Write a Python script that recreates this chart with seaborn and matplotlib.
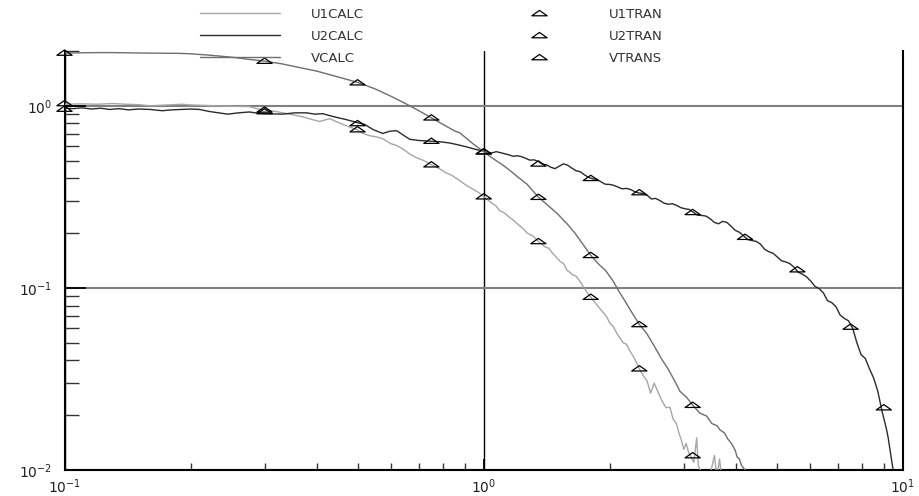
import numpy as np
import pandas as pd
import matplotlib
matplotlib.use("Agg")
import matplotlib.pyplot as plt
from matplotlib.path import Path
from matplotlib.lines import Line2D
from matplotlib.ticker import LogLocator, LogFormatterSciNotation, NullFormatter
import seaborn as sns

# ---------------- data ----------------
u1calc_x = [0.100, 0.110, 0.120, 0.130, 0.140, 0.150, 0.160, 0.175, 0.190, 0.202, 0.215, 0.230,
            0.250, 0.276, 0.290, 0.305, 0.320, 0.344, 0.370, 0.390, 0.406, 0.429, 0.450, 0.475,
            0.498, 0.515, 0.535, 0.555, 0.574, 0.600, 0.620, 0.641, 0.665, 0.690, 0.720, 0.750,
            0.780, 0.810, 0.840, 0.877, 0.910, 0.940, 0.970, 1.00, 1.03, 1.05, 1.07,
            1.09, 1.12, 1.15, 1.17, 1.20, 1.24, 1.27, 1.31, 1.35, 1.40, 1.43, 1.46, 1.52, 1.55,
            1.58, 1.63, 1.66, 1.69, 1.75, 1.80, 1.85,
            1.92, 1.96, 2.00, 2.04, 2.08, 2.15, 2.19, 2.22, 2.26, 2.30, 2.35, 2.40, 2.45, 2.50,
            2.55, 2.60, 2.66, 2.72,
            2.78, 2.83, 2.88, 2.92, 2.96, 3.00, 3.04, 3.08, 3.12, 3.17, 3.22, 3.25, 3.28, 3.32,
            3.45, 3.55, 3.60, 3.65, 3.70]
u1calc_y = [1.02, 1.025, 1.02, 1.03, 1.02, 1.015, 1.00, 1.01, 1.02, 1.01, 1.005, 1.00,
            0.995, 0.99, 0.96, 0.945, 0.93, 0.90, 0.87, 0.84, 0.82, 0.85, 0.81, 0.77,
            0.74, 0.705, 0.685, 0.675, 0.66, 0.62, 0.605, 0.58, 0.545, 0.52, 0.50, 0.475,
            0.455, 0.43, 0.415, 0.388, 0.365, 0.35, 0.335, 0.317, 0.30, 0.29, 0.282,
            0.266, 0.258, 0.245, 0.238, 0.226, 0.212, 0.20, 0.193, 0.18, 0.168, 0.165, 0.155, 0.14, 0.136,
            0.125, 0.118, 0.116, 0.110, 0.097, 0.089, 0.082,
            0.074, 0.070, 0.064, 0.061, 0.056, 0.050, 0.049, 0.046, 0.043, 0.040, 0.036, 0.033, 0.031, 0.0264,
            0.030, 0.027, 0.024, 0.022,
            0.0221, 0.019, 0.018, 0.016, 0.0146, 0.013, 0.014, 0.0125, 0.0119, 0.011, 0.015, 0.0105, 0.0101, 0.0092,
            0.0090, 0.0120, 0.0090, 0.0115, 0.0090]

u2calc_x = [0.100, 0.105, 0.110, 0.116, 0.122, 0.128, 0.135, 0.142, 0.150, 0.160, 0.171, 0.180,
            0.190, 0.200, 0.210, 0.222, 0.233, 0.245, 0.260, 0.276, 0.290, 0.305, 0.331, 0.355,
            0.378, 0.395, 0.413, 0.440, 0.470, 0.498, 0.520, 0.545, 0.574, 0.597, 0.620, 0.643,
            0.666, 0.700, 0.743, 0.785, 0.829, 0.870, 0.910, 0.960,
            1.000, 1.023, 1.047, 1.071, 1.096, 1.122, 1.148, 1.175, 1.202, 1.230, 1.259, 1.288,
            1.318, 1.349, 1.380, 1.413, 1.445, 1.479, 1.514, 1.549, 1.585, 1.622, 1.660, 1.698,
            1.738, 1.778, 1.820, 1.862, 1.905, 1.950, 1.995, 2.042, 2.089, 2.138, 2.188, 2.239,
            2.291, 2.344, 2.399, 2.455, 2.512, 2.570, 2.630, 2.692, 2.754, 2.818, 2.884, 2.951,
            3.020, 3.090, 3.162, 3.236, 3.311, 3.388, 3.467, 3.548, 3.631, 3.715, 3.802, 3.890,
            3.981, 4.074, 4.169, 4.266, 4.365, 4.467, 4.571, 4.677, 4.786, 4.898, 5.012, 5.129,
            5.248, 5.370, 5.495, 5.623, 5.754, 5.888, 6.026, 6.166, 6.310, 6.457, 6.607, 6.761,
            6.918, 7.079, 7.244, 7.413, 7.586, 7.762, 7.943, 8.128, 8.318, 8.511, 8.710, 8.913,
            9.120, 9.220, 9.330, 9.440, 9.550]
u2calc_y = [0.97, 0.965, 0.975, 0.96, 0.97, 0.955, 0.965, 0.95, 0.96, 0.955, 0.94, 0.95,
            0.955, 0.96, 0.955, 0.93, 0.915, 0.90, 0.915, 0.925, 0.91, 0.905, 0.90, 0.915,
            0.915, 0.90, 0.905, 0.87, 0.84, 0.81, 0.79, 0.74, 0.705, 0.725, 0.73, 0.69,
            0.655, 0.645, 0.64, 0.635, 0.625, 0.61, 0.595, 0.575,
            0.565, 0.548, 0.552, 0.560, 0.553, 0.545, 0.538, 0.528, 0.532, 0.526, 0.515, 0.503,
            0.505, 0.495, 0.478, 0.474, 0.460, 0.452, 0.466, 0.480, 0.472, 0.455, 0.440, 0.435,
            0.418, 0.405, 0.397, 0.395, 0.382, 0.371, 0.370, 0.366, 0.358, 0.350, 0.352, 0.347,
            0.338, 0.332, 0.330, 0.322, 0.308, 0.310, 0.302, 0.292, 0.288, 0.290, 0.284, 0.276,
            0.272, 0.270, 0.260, 0.251, 0.250, 0.248, 0.240, 0.229, 0.225, 0.232, 0.229, 0.218,
            0.207, 0.202, 0.193, 0.184, 0.182, 0.180, 0.174, 0.163, 0.158, 0.155, 0.148, 0.141,
            0.139, 0.136, 0.130, 0.122, 0.119, 0.115, 0.109, 0.102, 0.099, 0.094, 0.085, 0.083,
            0.079, 0.071, 0.068, 0.066, 0.060, 0.050, 0.043, 0.041, 0.036, 0.032, 0.027, 0.021,
            0.017, 0.015, 0.0125, 0.0105, 0.009]

vcalc_x = [0.100, 0.110, 0.120, 0.130, 0.140, 0.150, 0.170, 0.190, 0.200, 0.220, 0.250, 0.275,
           0.300, 0.330, 0.360, 0.400, 0.440, 0.500, 0.550, 0.600, 0.650, 0.700, 0.750, 0.800,
           0.850, 0.877, 0.950, 1.00, 1.05, 1.10, 1.15, 1.20, 1.27, 1.35, 1.42, 1.50, 1.58, 1.65,
           1.72, 1.80, 1.88, 1.95, 2.03, 2.10, 2.17, 2.25, 2.35, 2.45, 2.55, 2.65, 2.75, 2.85,
           2.94, 3.05, 3.15, 3.28, 3.40, 3.50, 3.60, 3.66, 3.75, 3.82, 3.88, 3.94, 3.98, 4.02,
           4.07, 4.12, 4.20, 4.25]
vcalc_y = [1.95, 1.955, 1.96, 1.96, 1.955, 1.95, 1.945, 1.94, 1.93, 1.90, 1.85, 1.80,
           1.76, 1.70, 1.63, 1.55, 1.46, 1.345, 1.24, 1.13, 1.03, 0.94, 0.86, 0.79,
           0.73, 0.71, 0.61, 0.56, 0.515, 0.48, 0.445, 0.41, 0.37, 0.315, 0.285, 0.255, 0.225, 0.20,
           0.175, 0.151, 0.135, 0.125, 0.11, 0.096, 0.085, 0.074, 0.063, 0.056, 0.048, 0.041, 0.036, 0.031,
           0.027, 0.025, 0.0227, 0.0205, 0.0198, 0.018, 0.0175, 0.0166, 0.0160, 0.0148, 0.0142, 0.0134, 0.0128, 0.0118,
           0.0115, 0.0106, 0.0100, 0.0093]

marker_x = [0.1, 0.3, 0.5, 0.75, 1.0, 1.35, 1.8, 2.35, 3.15, 4.2, 5.6, 7.5, 9.0]
u1tran_y = [1.03, 0.95, 0.74, 0.475, 0.317, 0.18, 0.089, 0.036, 0.012]
u2tran_y = [0.96, 0.93, 0.80, 0.64, 0.56, 0.48, 0.40, 0.334, 0.26, 0.19, 0.126, 0.061, 0.022]
vtrans_y = [1.95, 1.76, 1.34, 0.86, 0.56, 0.315, 0.151, 0.063, 0.0227]

calc_names = ["U1CALC", "U2CALC", "VCALC"]
tran_names = ["U1TRAN", "U2TRAN", "VTRANS"]
calc_colors = {"U1CALC": "#a6a6a6", "U2CALC": "#2b2b2b", "VCALC": "#6e6e6e"}

# ---------------- frames ----------------
calc_df = pd.concat([
    pd.DataFrame({"x": u1calc_x, "y": u1calc_y, "series": "U1CALC"}),
    pd.DataFrame({"x": u2calc_x, "y": u2calc_y, "series": "U2CALC"}),
    pd.DataFrame({"x": vcalc_x, "y": vcalc_y, "series": "VCALC"}),
], ignore_index=True)
tran_df = pd.concat([
    pd.DataFrame({"x": marker_x[:len(u1tran_y)], "y": u1tran_y, "series": "U1TRAN"}),
    pd.DataFrame({"x": marker_x[:len(u2tran_y)], "y": u2tran_y, "series": "U2TRAN"}),
    pd.DataFrame({"x": marker_x[:len(vtrans_y)], "y": vtrans_y, "series": "VTRANS"}),
], ignore_index=True)

# ---------------- style ----------------
sns.set_style("white")
plt.rcParams["font.family"] = ["DejaVu Sans"]
plt.rcParams["mathtext.fontset"] = "dejavusans"

W, H = 919, 496
fig = plt.figure(figsize=(W / 100, H / 100), dpi=100)
ax = fig.add_axes([64.5 / W, 26 / H, 838.5 / W, 419 / H])
ax.set_xscale("log")
ax.set_yscale("log")

# flattened open triangle marker
tri = Path([(-1.0, -0.3), (1.0, -0.3), (0.0, 0.4), (-1.0, -0.3)],
           [Path.MOVETO, Path.LINETO, Path.LINETO, Path.CLOSEPOLY])

sns.lineplot(data=calc_df, x="x", y="y", hue="series", palette=calc_colors,
             estimator=None, sort=False, legend=False, linewidth=1.0, ax=ax, zorder=3)
sns.scatterplot(data=tran_df, x="x", y="y", marker=tri, s=120, facecolor="none",
                edgecolor="black", linewidth=0.9, legend=False, ax=ax, zorder=4, clip_on=False)

ax.set_xlim(0.1, 10)
ax.set_ylim(0.01, 2.0)
ax.set_xlabel("")
ax.set_ylabel("")

# ticks
ax.xaxis.set_major_locator(LogLocator(base=10, numticks=10))
ax.xaxis.set_minor_locator(LogLocator(base=10, subs=np.arange(2, 10), numticks=20))
ax.yaxis.set_major_locator(LogLocator(base=10, numticks=10))
ax.yaxis.set_minor_locator(LogLocator(base=10, subs=np.arange(2, 10), numticks=20))
ax.xaxis.set_major_formatter(LogFormatterSciNotation())
ax.yaxis.set_major_formatter(LogFormatterSciNotation())
ax.xaxis.set_minor_formatter(NullFormatter())
ax.yaxis.set_minor_formatter(NullFormatter())

ax.tick_params(axis="y", which="major", direction="in", length=15, width=1.3,
               color="black", labelsize=10, pad=9, left=True, right=False, labelcolor="#222222")
ax.tick_params(axis="y", which="minor", direction="in", length=10, width=1.0,
               color="#333333", left=True, right=False)
ax.tick_params(axis="x", which="major", direction="in", length=8, width=1.3,
               color="black", labelsize=10, pad=5, bottom=True, top=False, labelcolor="#222222")
ax.tick_params(axis="x", which="minor", direction="in", length=5, width=1.0,
               color="#333333", bottom=True, top=False)

# grid
ax.yaxis.grid(True, which="major", color="#808080", linewidth=1.5)
ax.xaxis.grid(True, which="major", color="black", linewidth=1.0)
ax.set_axisbelow(True)

for side in ["left", "bottom"]:
    ax.spines[side].set_color("black")
    ax.spines[side].set_linewidth(1.5)
ax.spines["right"].set_color("black")
ax.spines["right"].set_linewidth(1.5)
ax.spines["top"].set_visible(False)

# legend
handles = [Line2D([], [], color=calc_colors[n], lw=1.0) for n in calc_names]
handles += [Line2D([], [], ls="none", marker=tri, markersize=11, mfc="none",
                   mec="black", mew=0.9) for _ in tran_names]
fig.legend(handles, calc_names + tran_names, ncol=2, loc="upper left",
           bbox_to_anchor=(200 / W, 1 - 8 / H), frameon=False, fontsize=9.5,
           handlelength=6.1, handletextpad=2.3, columnspacing=10.2,
           labelspacing=0.68, borderpad=0, borderaxespad=0, labelcolor="#333333")

fig.savefig("out.png", dpi=100)
